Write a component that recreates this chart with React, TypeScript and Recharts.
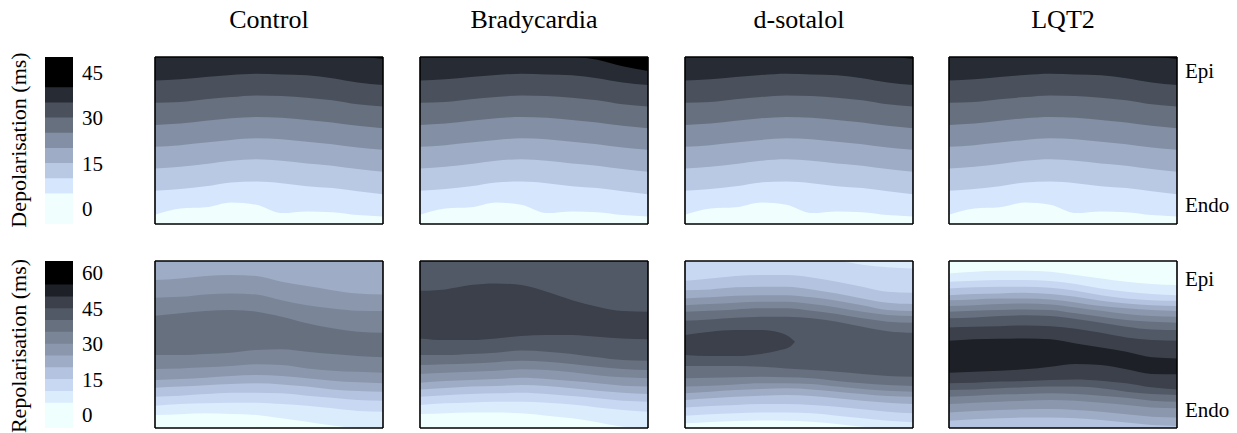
import { AreaChart, Area, XAxis, YAxis } from 'recharts';

// sample positions across the tissue (x) and depth grid 0 (Endo) .. 9 (Epi)
const XS = [0, 1, 2, 3, 4, 5, 6, 7, 8, 9];

const TITLES = ['Control', 'Bradycardia', 'd-sotalol', 'LQT2'];

// colour levels, lightest -> darkest
const DEPOL_COLORS = ['#f0fefe', '#d5e6fd', '#b9c9e4', '#9eacc5', '#838fa4', '#67707f', '#4a515c', '#272b33', '#000000'];
const REPOL_COLORS = ['#effffe', '#dbecfd', '#c8d8f3', '#b4c3df', '#9facc5', '#8b97ad', '#7a8598', '#67707f', '#525966', '#3b404a', '#1d2026', '#000000'];

const DEPOL_LEVELS = [5, 10, 15, 20, 25, 30, 35, 40];
const REPOL_LEVELS = [5, 10, 15, 20, 25, 30, 35, 40, 45, 50, 55];
const DEPOL_TICKS = [0, 15, 30, 45];
const REPOL_TICKS = [0, 15, 30, 45, 60];

// contour boundaries, top -> bottom (depth units), one value per XS
const ctrlDepol = [
  [9, 9, 9, 9, 9, 9, 9, 9, 9, 8.9],
  [7.74, 7.8, 7.92, 8.03, 8.1, 8.06, 8.01, 7.85, 7.62, 7.49],
  [6.54, 6.57, 6.72, 6.84, 6.93, 6.9, 6.81, 6.67, 6.45, 6.33],
  [5.34, 5.41, 5.56, 5.7, 5.77, 5.73, 5.61, 5.47, 5.29, 5.16],
  [4.16, 4.25, 4.39, 4.53, 4.62, 4.57, 4.43, 4.3, 4.12, 4.0],
  [2.99, 3.08, 3.23, 3.41, 3.49, 3.41, 3.26, 3.14, 2.96, 2.81],
  [1.79, 1.88, 2.03, 2.24, 2.29, 2.2, 2.04, 1.94, 1.76, 1.61],
  [0.5, 0.84, 0.9, 1.16, 1.04, 0.59, 0.68, 0.63, 0.48, 0.41],
];
const bradyDepol = [
  [9, 9, 9, 9, 9, 9, 9, 8.85, 8.5, 8.25],
  ...ctrlDepol.slice(1),
];
const depolBands = [8, 7, 6, 5, 4, 3, 2, 1, 0];

const ctrlRepol = [
  [7.97, 8.06, 8.19, 8.24, 8.19, 7.88, 7.65, 7.43, 7.25, 7.2],
  [7.02, 7.07, 7.2, 7.25, 7.2, 6.89, 6.62, 6.44, 6.32, 6.3],
  [6.05, 6.18, 6.3, 6.36, 6.27, 6.0, 5.64, 5.37, 5.19, 5.13],
  [3.93, 3.93, 3.99, 4.06, 4.2, 4.24, 4.11, 3.99, 3.88, 3.81],
  [3.18, 3.21, 3.27, 3.34, 3.43, 3.39, 3.21, 3.09, 3.03, 2.98],
  [2.59, 2.64, 2.71, 2.8, 2.85, 2.8, 2.68, 2.55, 2.46, 2.41],
  [2.17, 2.23, 2.3, 2.37, 2.41, 2.35, 2.23, 2.08, 1.99, 1.96],
  [1.69, 1.74, 1.83, 1.9, 1.9, 1.87, 1.74, 1.63, 1.51, 1.47],
  [1.2, 1.29, 1.33, 1.36, 1.36, 1.29, 1.2, 1.06, 0.92, 0.88],
  [0.7, 0.74, 0.79, 0.75, 0.7, 0.52, 0.34, 0.13, 0, 0],
];
const ctrlRepolBands = [4, 5, 6, 7, 6, 5, 4, 3, 2, 1, 0];

const bradyRepol = [
  [7.4, 7.47, 7.7, 7.79, 7.7, 7.34, 6.89, 6.54, 6.3, 6.27],
  [4.83, 4.74, 4.74, 4.83, 4.96, 5.01, 5.01, 4.92, 4.83, 4.78],
  [3.93, 3.93, 3.99, 4.06, 4.17, 4.11, 3.99, 3.81, 3.66, 3.63],
  [3.39, 3.43, 3.48, 3.55, 3.63, 3.57, 3.45, 3.3, 3.18, 3.12],
  [2.91, 2.98, 3.03, 3.09, 3.16, 3.12, 3.0, 2.84, 2.73, 2.68],
  [2.44, 2.53, 2.59, 2.64, 2.71, 2.64, 2.53, 2.41, 2.28, 2.23],
  [2.08, 2.15, 2.23, 2.26, 2.32, 2.26, 2.14, 2.01, 1.9, 1.83],
  [1.69, 1.76, 1.83, 1.87, 1.9, 1.83, 1.72, 1.6, 1.47, 1.42],
  [1.24, 1.33, 1.38, 1.42, 1.42, 1.36, 1.26, 1.11, 0.97, 0.88],
  [0.75, 0.79, 0.84, 0.84, 0.79, 0.66, 0.52, 0.31, 0.07, 0],
];
const bradyRepolBands = [8, 9, 8, 7, 6, 5, 4, 3, 2, 1, 0];

const sotRepol = [
  [9, 9, 9, 9, 9, 9, 9, 8.8, 8.66, 8.6],
  [7.94, 8.06, 8.19, 8.24, 8.24, 8.11, 7.88, 7.61, 7.34, 7.29],
  [7.43, 7.47, 7.58, 7.61, 7.61, 7.47, 7.25, 6.98, 6.75, 6.68],
  [6.98, 7.04, 7.13, 7.16, 7.16, 7.04, 6.86, 6.62, 6.36, 6.3],
  [6.62, 6.68, 6.75, 6.8, 6.8, 6.68, 6.5, 6.27, 6.09, 6.03],
  [6.27, 6.32, 6.39, 6.45, 6.45, 6.32, 6.14, 5.91, 5.73, 5.67],
  [5.78, 5.85, 5.94, 6.0, 6.0, 5.91, 5.73, 5.46, 5.22, 5.13],
  [3.34, 3.34, 3.34, 3.3, 3.21, 3.12, 3.03, 2.91, 2.8, 2.76],
  [2.68, 2.71, 2.73, 2.76, 2.73, 2.68, 2.53, 2.41, 2.32, 2.26],
  [2.23, 2.28, 2.35, 2.41, 2.41, 2.37, 2.23, 2.1, 2.01, 1.96],
  [1.87, 1.96, 2.05, 2.1, 2.14, 2.08, 1.96, 1.83, 1.72, 1.69],
  [1.51, 1.6, 1.69, 1.74, 1.78, 1.72, 1.6, 1.47, 1.36, 1.29],
  [1.11, 1.18, 1.24, 1.29, 1.29, 1.24, 1.15, 1.01, 0.88, 0.79],
  [0.66, 0.74, 0.79, 0.83, 0.83, 0.79, 0.66, 0.52, 0.39, 0.31],
  [0.25, 0.32, 0.38, 0.41, 0.39, 0.34, 0.22, 0.07, 0, 0],
];
const sotRepolBands = [1, 2, 3, 4, 5, 6, 7, 8, 7, 6, 5, 4, 3, 2, 1, 0];

// closed island of the next level inside the d-sotalol dark band
const sotBlobX = [0, 1, 2, 3, 3.75, 4.15, 4.34];
const sotBlobLo = [3.93, 3.88, 3.88, 3.99, 4.2, 4.38, 4.65];
const sotBlobHi = [5.01, 5.19, 5.28, 5.28, 5.13, 4.88, 4.65];
const sotBlobLevel = 9;

const lqtRepol = [
  [8.33, 8.42, 8.47, 8.47, 8.42, 8.24, 8.06, 7.88, 7.76, 7.7],
  [7.88, 7.94, 7.97, 7.97, 7.92, 7.76, 7.52, 7.34, 7.22, 7.16],
  [7.52, 7.58, 7.61, 7.61, 7.56, 7.4, 7.16, 6.98, 6.89, 6.86],
  [7.16, 7.22, 7.25, 7.29, 7.22, 7.07, 6.86, 6.71, 6.62, 6.57],
  [6.89, 6.93, 6.98, 6.98, 6.93, 6.77, 6.57, 6.45, 6.36, 6.3],
  [6.57, 6.62, 6.68, 6.71, 6.66, 6.5, 6.32, 6.14, 6.03, 6.0],
  [6.27, 6.32, 6.36, 6.39, 6.36, 6.18, 6.0, 5.82, 5.73, 5.67],
  [5.91, 5.96, 6.03, 6.07, 6.03, 5.87, 5.67, 5.46, 5.31, 5.28],
  [5.42, 5.46, 5.49, 5.53, 5.49, 5.35, 5.13, 4.88, 4.74, 4.7],
  [4.7, 4.78, 4.81, 4.83, 4.78, 4.56, 4.34, 4.11, 3.81, 3.75],
  [2.98, 3.03, 3.09, 3.16, 3.3, 3.45, 3.39, 3.16, 2.91, 2.89],
  [2.41, 2.44, 2.5, 2.53, 2.59, 2.62, 2.55, 2.41, 2.19, 2.08],
  [2.05, 2.08, 2.14, 2.19, 2.23, 2.23, 2.14, 1.96, 1.83, 1.78],
  [1.69, 1.74, 1.81, 1.83, 1.87, 1.83, 1.74, 1.63, 1.47, 1.42],
  [1.29, 1.36, 1.42, 1.47, 1.51, 1.47, 1.36, 1.24, 1.11, 1.06],
  [0.84, 0.92, 0.97, 1.01, 1.02, 0.97, 0.88, 0.74, 0.61, 0.57],
  [0.39, 0.47, 0.52, 0.56, 0.56, 0.52, 0.43, 0.29, 0.16, 0.11],
];
const lqtRepolBands = [0, 1, 2, 3, 4, 5, 6, 7, 8, 9, 10, 9, 8, 7, 6, 5, 4, 3];

const COL_X = [155, 420, 685, 949];
const ROW_Y = [57, 261];
const PW = 228;
const PH = 167;
const PAD = 3;
const SERIF = '"Liberation Serif", "Times New Roman", serif';

type Blob = { xs: number[]; lo: number[]; hi: number[]; level: number };

function Panel({ bounds, bands, colors, left, top, blob }: {
  bounds: number[][]; bands: number[]; colors: string[]; left: number; top: number; blob?: Blob;
}) {
  // painter order: each band fills from its upper contour down to the Endo edge
  const data = XS.map((x, i) => {
    const row: Record<string, unknown> = { x };
    bands.forEach((_, k) => {
      row[`b${k}`] = [0, k === 0 ? 9 : bounds[k - 1][i]];
    });
    return row;
  });
  const blobData = blob ? blob.xs.map((x, i) => ({ x, blob: [blob.lo[i], blob.hi[i]] })) : [];
  const axisLine = { stroke: '#000', strokeWidth: 1.6 };
  const tickLine = { stroke: '#111', strokeWidth: 1 };
  const W = PW + 2 * PAD + 2;
  const H = PH + 2 * PAD + 2;
  const m = PAD + 1;
  return (
    <>
      <div style={{ position: 'absolute', left: left - m, top: top - m }}>
        <AreaChart width={W} height={H} data={data} margin={{ top: m, right: m, bottom: m, left: m }}>
          <XAxis dataKey="x" type="number" domain={[0, 9]} allowDataOverflow hide />
          <YAxis type="number" domain={[0, 9]} allowDataOverflow hide />
          {bands.map((lvl, k) => (
            <Area key={k} dataKey={`b${k}`} type="monotone" stroke="none"
              fill={colors[lvl]} fillOpacity={1} isAnimationActive={false} dot={false} activeDot={false} />
          ))}
          {blob && (
            <Area data={blobData} dataKey="blob" type="monotone" stroke="none"
              fill={colors[blob.level]} fillOpacity={1} isAnimationActive={false} dot={false} activeDot={false} />
          )}
        </AreaChart>
      </div>
      {/* frame with inward ticks on all four sides */}
      <div style={{ position: 'absolute', left: left - m, top: top - m }}>
        <AreaChart width={W} height={H} data={data} margin={{ top: m, right: m, bottom: m, left: m }}>
          <Area xAxisId="b" yAxisId="l" dataKey="x" stroke="none" fill="none" isAnimationActive={false} dot={false} activeDot={false} />
          <XAxis xAxisId="b" dataKey="x" type="number" domain={[0, 9]} ticks={XS} allowDataOverflow interval={0}
            orientation="bottom" mirror tick={false} tickSize={3} height={1} axisLine={axisLine} tickLine={tickLine} />
          <XAxis xAxisId="t" dataKey="x" type="number" domain={[0, 9]} ticks={XS} allowDataOverflow interval={0}
            orientation="top" mirror tick={false} tickSize={3} height={1} axisLine={axisLine} tickLine={tickLine} />
          <YAxis yAxisId="l" type="number" domain={[0, 9]} ticks={XS} allowDataOverflow interval={0}
            orientation="left" mirror tick={false} tickSize={3} width={1} axisLine={axisLine} tickLine={tickLine} />
          <YAxis yAxisId="r" type="number" domain={[0, 9]} ticks={XS} allowDataOverflow interval={0}
            orientation="right" mirror tick={false} tickSize={3} width={1} axisLine={axisLine} tickLine={tickLine} />
        </AreaChart>
      </div>
    </>
  );
}

function Colorbar({ levels, colors, ticks, domain, top }: {
  levels: number[]; colors: string[]; ticks: number[]; domain: [number, number]; top: number;
}) {
  const order = colors.map((_, j) => colors.length - 1 - j);
  const data = [0, 1].map((x) => {
    const row: Record<string, unknown> = { x };
    order.forEach((j) => {
      row[`c${j}`] = [domain[0], j === colors.length - 1 ? domain[1] : levels[j]];
    });
    return row;
  });
  return (
    <div style={{ position: 'absolute', left: 45, top }}>
      <AreaChart width={28 + 40} height={PH} data={data} margin={{ top: 0, right: 0, bottom: 0, left: 0 }}>
        {order.map((j) => (
          <Area key={j} dataKey={`c${j}`} type="linear" stroke="none" fill={colors[j]} fillOpacity={1}
            isAnimationActive={false} dot={false} activeDot={false} />
        ))}
        <XAxis dataKey="x" type="number" domain={[0, 1]} hide />
        <YAxis orientation="right" type="number" domain={domain} ticks={ticks} allowDataOverflow width={40}
          interval={0} axisLine={false} tickLine={false} tickMargin={3}
          tick={{ fontSize: 21, fill: '#000', fontFamily: SERIF }} />
      </AreaChart>
    </div>
  );
}

const txt = (extra: React.CSSProperties): React.CSSProperties => ({
  position: 'absolute', fontFamily: SERIF, color: '#000', whiteSpace: 'nowrap', ...extra,
});

export default function App() {
  const topRow = [ctrlDepol, bradyDepol, ctrlDepol, ctrlDepol];
  const bottomRow = [
    { bounds: ctrlRepol, bands: ctrlRepolBands },
    { bounds: bradyRepol, bands: bradyRepolBands },
    { bounds: sotRepol, bands: sotRepolBands },
    { bounds: lqtRepol, bands: lqtRepolBands },
  ];
  const sotBlob: Blob = { xs: sotBlobX, lo: sotBlobLo, hi: sotBlobHi, level: sotBlobLevel };
  return (
    <div style={{ position: 'absolute', left: 0, top: 0, width: 1237, height: 433, background: '#fff', overflow: 'hidden' }}>
      {TITLES.map((t, i) => (
        <div key={t} style={txt({ left: COL_X[i] + PW / 2, top: 7, fontSize: 26, lineHeight: '26px', transform: 'translateX(-50%)' })}>{t}</div>
      ))}
      <div style={txt({ left: 19, top: 140, fontSize: 22, lineHeight: '22px', transform: 'translate(-50%, -50%) rotate(-90deg)' })}>Depolarisation (ms)</div>
      <div style={txt({ left: 19, top: 346, fontSize: 22, lineHeight: '22px', transform: 'translate(-50%, -50%) rotate(-90deg)' })}>Repolarisation (ms)</div>

      <Colorbar levels={DEPOL_LEVELS} colors={DEPOL_COLORS} ticks={DEPOL_TICKS} domain={[-5.1, 50]} top={ROW_Y[0]} />
      <Colorbar levels={REPOL_LEVELS} colors={REPOL_COLORS} ticks={REPOL_TICKS} domain={[-5.7, 65]} top={ROW_Y[1]} />

      {topRow.map((b, i) => (
        <Panel key={`d${i}`} bounds={b} bands={depolBands} colors={DEPOL_COLORS} left={COL_X[i]} top={ROW_Y[0]} />
      ))}
      {bottomRow.map((p, i) => (
        <Panel key={`r${i}`} bounds={p.bounds} bands={p.bands} colors={REPOL_COLORS} left={COL_X[i]} top={ROW_Y[1]}
          blob={i === 2 ? sotBlob : undefined} />
      ))}

      <div style={txt({ left: 1185, top: 61, fontSize: 21, lineHeight: '21px' })}>Epi</div>
      <div style={txt({ left: 1185, top: 194.5, fontSize: 21, lineHeight: '21px' })}>Endo</div>
      <div style={txt({ left: 1185, top: 268.5, fontSize: 21, lineHeight: '21px' })}>Epi</div>
      <div style={txt({ left: 1185, top: 399.5, fontSize: 21, lineHeight: '21px' })}>Endo</div>
    </div>
  );
}
